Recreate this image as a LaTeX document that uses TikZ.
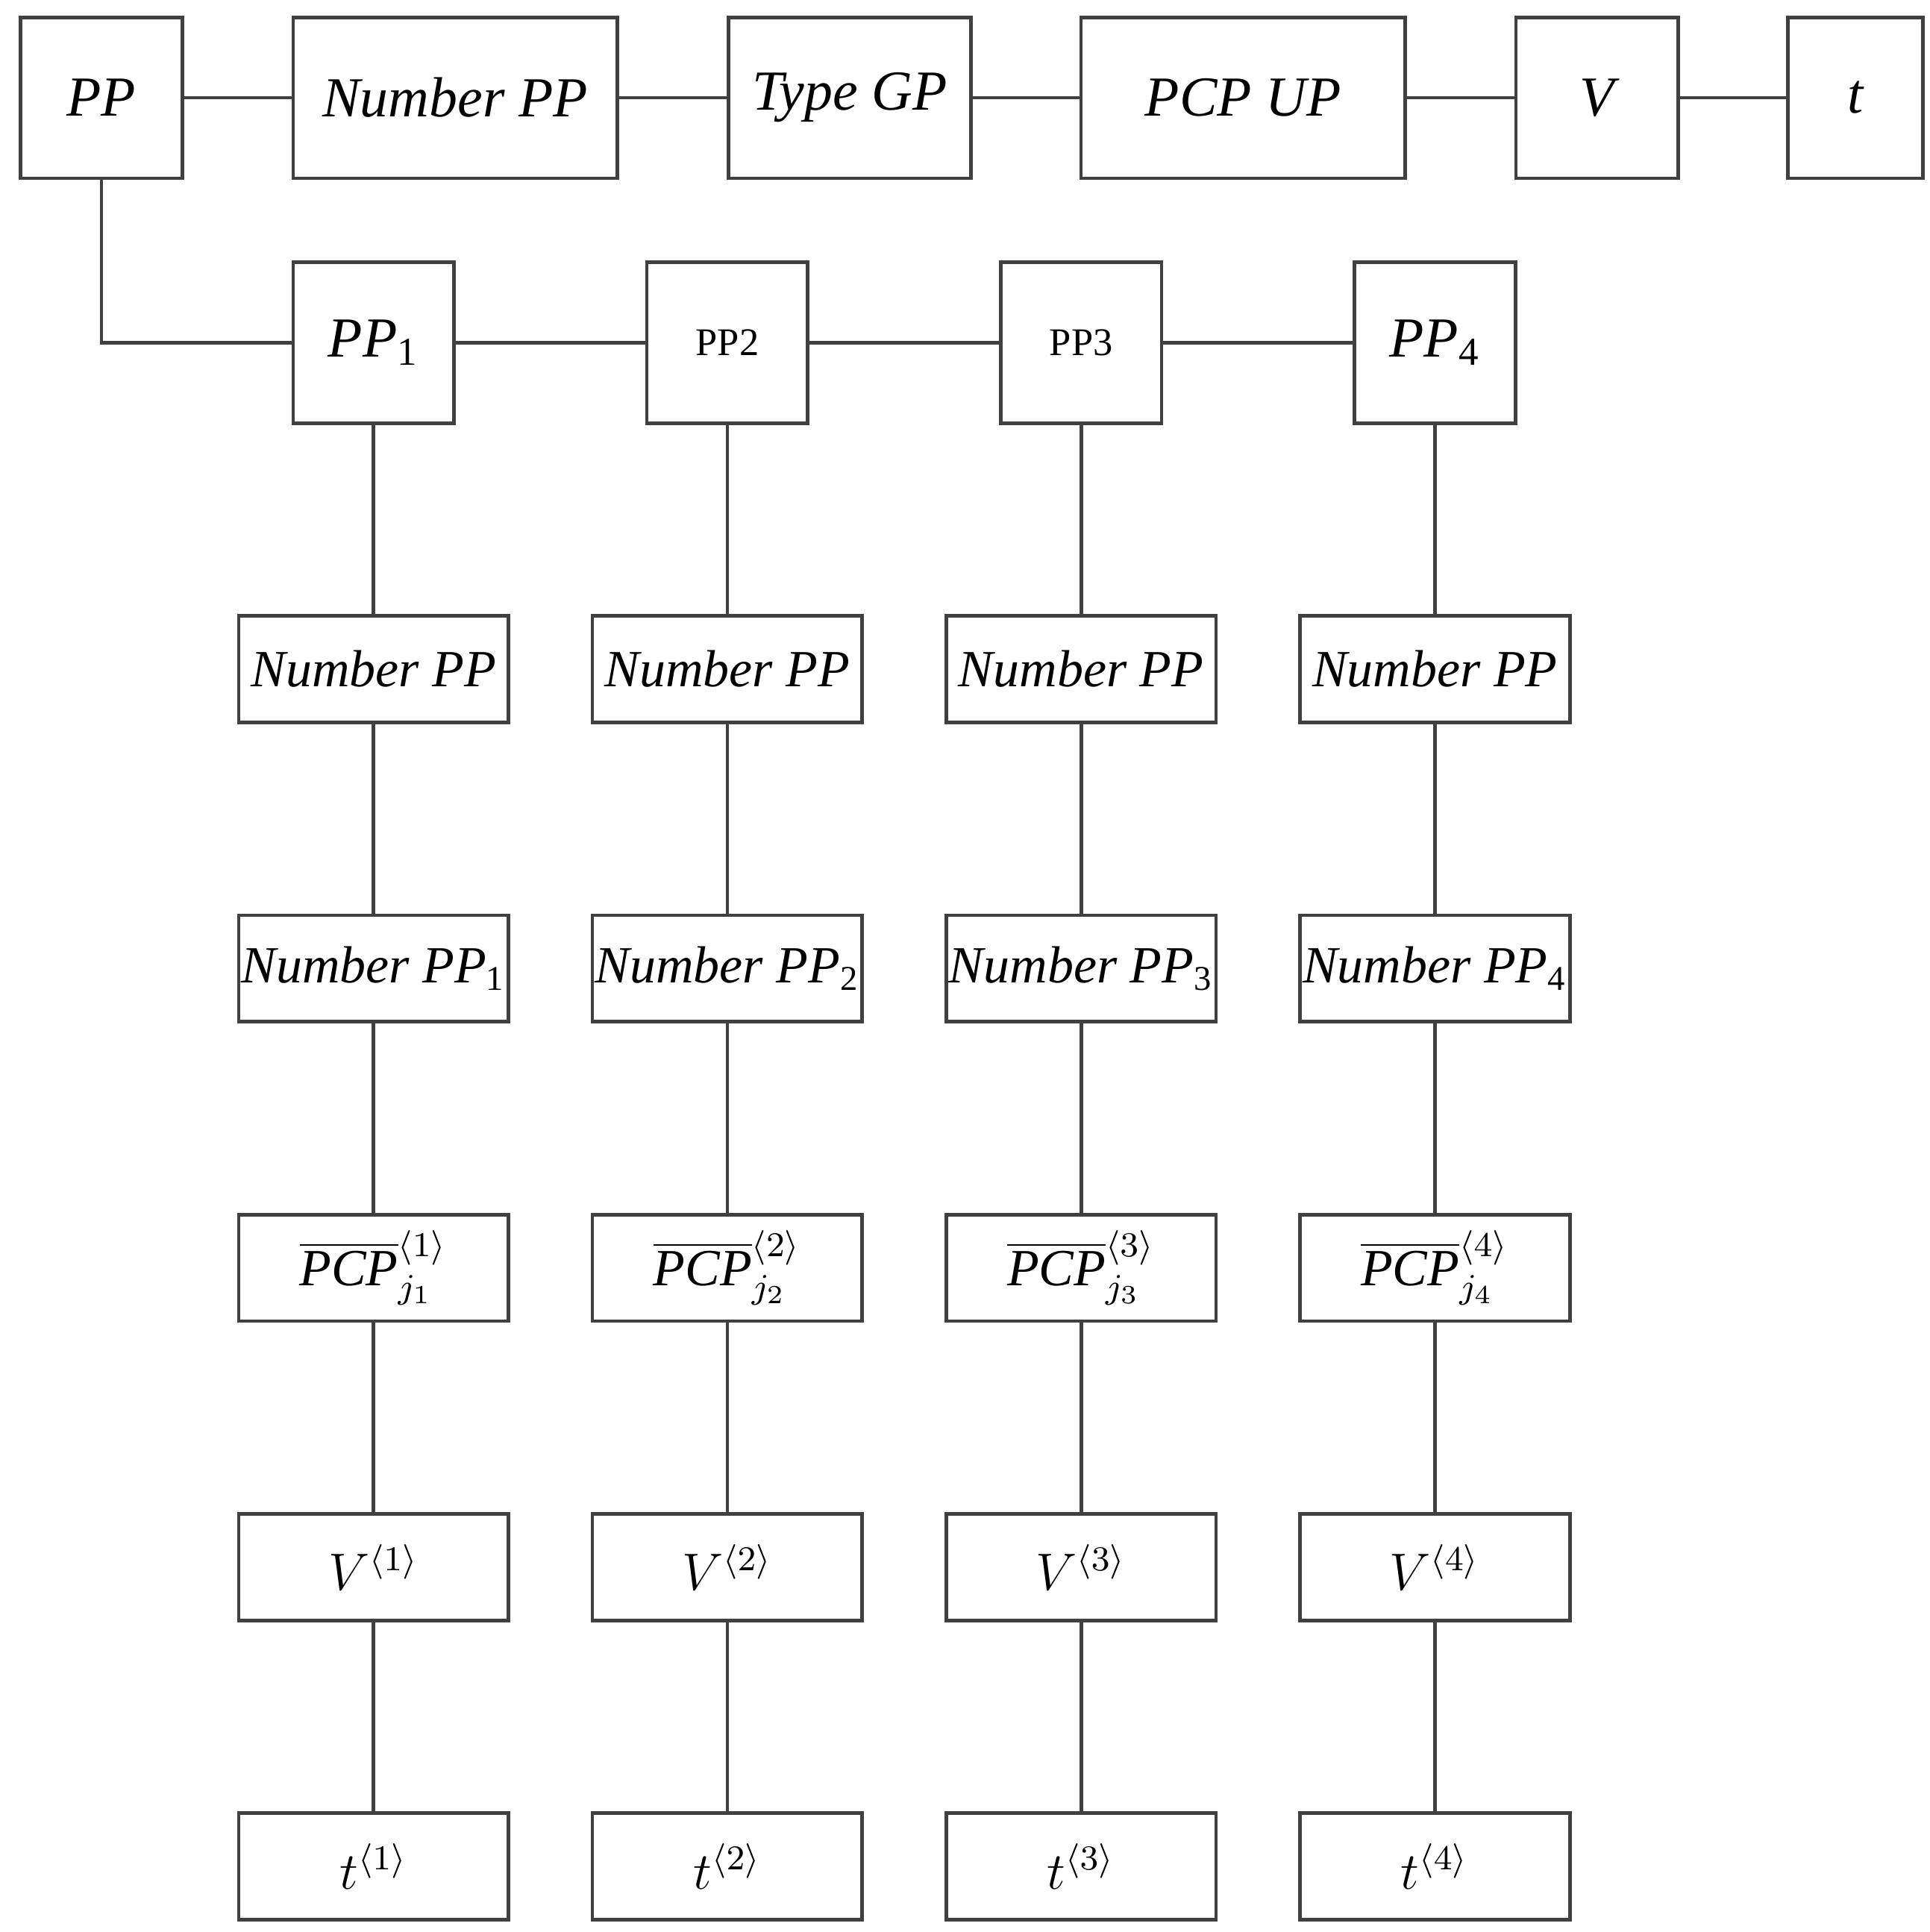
\documentclass[tikz,border=0pt]{standalone}
\usepackage{fontspec}
\setmainfont{Liberation Serif}
\usetikzlibrary{positioning}

\begin{document}
\begin{tikzpicture}[
x=0.01cm, y=-0.01cm,
every node/.style={align=center, font=\fontsize{13}{15}\selectfont\itshape},
box/.style={draw=black!75, thick, inner sep=0pt},
top/.style={box, minimum height=1.3cm},
sq/.style={box, minimum width=1.3cm, minimum height=1.3cm},
cell/.style={box, minimum width=2.18cm, minimum height=0.86cm, font=\fontsize{12}{14}\selectfont\itshape},
link/.style={draw=black!75, thick}
]
\useasboundingbox (0,0) rectangle (1560,1562);
% top row
\node[top, minimum width=1.31cm] (pp) at (82,79) {PP};
\node[top, minimum width=2.62cm] (num) at (368,79) {Number PP};
\node[top, minimum width=1.96cm] (type) at (687,79) {Type GP};
\node[top, minimum width=2.62cm] (pcpup) at (1005,79) {PCP UP};
\node[top, minimum width=1.31cm] (v) at (1291,79) {V};
\node[top, minimum width=1.09cm] (t) at (1500,79) {t};
\draw[link] (pp) -- (num) -- (type) -- (pcpup) -- (v) -- (t);
% second row
\node[sq] (pp1) at (302,277) {PP\textsubscript{\upshape 1}};
\node[sq, font=\small\upshape] (pp2) at (588,277) {PP2};
\node[sq, font=\small\upshape] (pp3) at (874,277) {PP3};
\node[sq] (pp4) at (1160,277) {PP\textsubscript{\upshape 4}};
\draw[link] (pp.south) |- (pp1.west);
\draw[link] (pp1) -- (pp2) -- (pp3) -- (pp4);
% columns
\foreach \i/\x in {1/302,2/588,3/874,4/1160}{
  \node[cell] (np\i) at (\x,541) {Number PP};
  \node[cell] (npi\i) at (\x,783) {Number PP\textsubscript{\upshape\i}};
  \node[cell] (pcp\i) at (\x,1025) {$\overline{\mathit{PCP}}^{\langle \i\rangle}_{j_{\i}}$};
  \node[cell] (v\i) at (\x,1267) {$V^{\langle \i\rangle}$};
  \node[cell] (t\i) at (\x,1509) {$t^{\langle \i\rangle}$};
  \draw[link] (pp\i) -- (np\i) -- (npi\i) -- (pcp\i) -- (v\i) -- (t\i);
}
\end{tikzpicture}
\end{document}
